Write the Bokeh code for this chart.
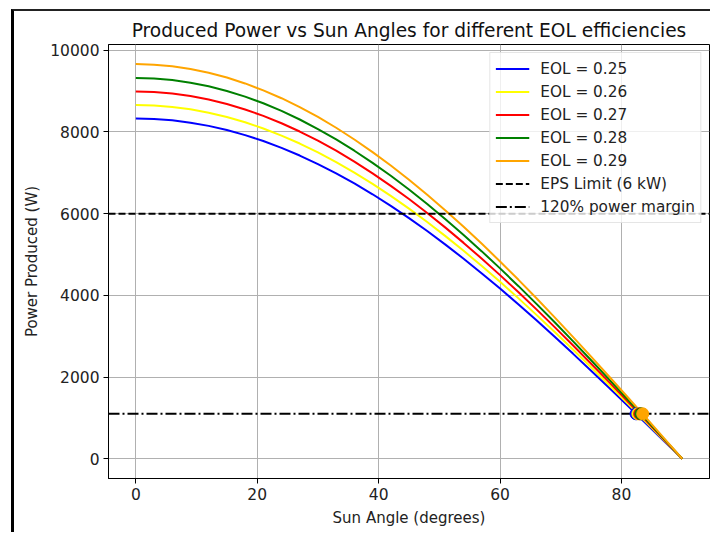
from bokeh.plotting import figure
from bokeh.models import Range1d, FixedTicker, Legend, LegendItem
from bokeh.layouts import column
from bokeh.embed import file_html
from bokeh.resources import INLINE

# ---- data ----
angles = [0, 3, 6, 9, 12, 15, 18, 21, 24, 27, 30, 33, 36, 39, 42, 45,
          48, 51, 54, 57, 60, 63, 66, 69, 72, 75, 78, 81, 84, 87, 90]
power_eol_025 = [8330, 8319, 8284, 8227, 8148, 8046, 7922, 7777, 7610, 7422, 7214, 6986, 6739, 6474, 6190, 5890,
                 5574, 5242, 4896, 4537, 4165, 3782, 3388, 2985, 2574, 2156, 1732, 1303, 871, 436, 0]
power_eol_026 = [8660, 8648, 8613, 8553, 8471, 8365, 8236, 8085, 7911, 7716, 7500, 7263, 7006, 6730, 6436, 6124,
                 5795, 5450, 5090, 4717, 4330, 3932, 3522, 3103, 2676, 2241, 1800, 1355, 905, 453, 0]
power_eol_027 = [8990, 8978, 8941, 8879, 8794, 8684, 8550, 8393, 8213, 8010, 7786, 7540, 7273, 6987, 6681, 6357,
                 6015, 5658, 5284, 4896, 4495, 4081, 3657, 3222, 2778, 2327, 1869, 1406, 940, 471, 0]
power_eol_028 = [9320, 9307, 9269, 9205, 9116, 9002, 8864, 8701, 8514, 8304, 8071, 7816, 7540, 7243, 6926, 6590,
                 6236, 5865, 5478, 5076, 4660, 4231, 3791, 3340, 2880, 2412, 1938, 1458, 974, 488, 0]
power_eol_029 = [9660, 9647, 9607, 9541, 9449, 9331, 9187, 9018, 8825, 8607, 8366, 8102, 7815, 7507, 7179, 6831,
                 6464, 6079, 5678, 5261, 4830, 4386, 3929, 3462, 2985, 2500, 2008, 1511, 1010, 506, 0]
series = [power_eol_025, power_eol_026, power_eol_027, power_eol_028, power_eol_029]
series_labels = ["EOL = 0.25", "EOL = 0.26", "EOL = 0.27", "EOL = 0.28", "EOL = 0.29"]
series_colors = ["blue", "yellow", "red", "green", "orange"]

eps_limit = 6000
margin_power = 1100
marker_angles = [82.4, 82.7, 83.0, 83.2, 83.5]
marker_power = [1100, 1100, 1100, 1100, 1100]

x_ticks = [0, 20, 40, 60, 80]
y_ticks = [0, 2000, 4000, 6000, 8000, 10000]
x_lo, x_hi = -4.5, 94.5
y_lo, y_hi = -483, 10140

FONT = "DejaVu Sans"

p = figure(width=696, height=521, output_backend="svg", toolbar_location=None,
           x_range=Range1d(x_lo, x_hi), y_range=Range1d(y_lo, y_hi),
           min_border_left=94, min_border_right=1, min_border_top=33, min_border_bottom=54)

p.title.text = "Produced Power vs Sun Angles for different EOL efficiencies"
p.title.align = "center"
p.title.text_font = FONT
p.title.text_font_size = "18.6px"
p.title.text_font_style = "normal"
p.title.text_color = "#111111"
p.title.standoff = 8

p.outline_line_color = "black"
p.outline_line_width = 1
p.background_fill_color = "white"
p.border_fill_color = "white"

for ax in (p.xaxis[0], p.yaxis[0]):
    ax.major_label_text_font = FONT
    ax.major_label_text_font_size = "15.5px"
    ax.major_label_text_color = "#222222"
    ax.axis_label_text_font = FONT
    ax.axis_label_text_font_size = "15px"
    ax.axis_label_text_font_style = "normal"
    ax.axis_label_text_color = "#222222"
    ax.major_tick_out = 5
    ax.major_tick_in = 0
    ax.minor_tick_out = 0
    ax.minor_tick_in = 0
    ax.axis_line_color = "black"
    ax.major_tick_line_color = "black"
    ax.major_label_standoff = 4

p.xaxis.axis_label = "Sun Angle (degrees)"
p.yaxis.axis_label = "Power Produced (W)"
p.xaxis.axis_label_standoff = 6
p.yaxis.axis_label_standoff = 6
p.xaxis.ticker = FixedTicker(ticks=x_ticks)
p.yaxis.ticker = FixedTicker(ticks=y_ticks)

p.xgrid.ticker = FixedTicker(ticks=x_ticks)
p.ygrid.ticker = FixedTicker(ticks=y_ticks)
for g in (p.xgrid[0], p.ygrid[0]):
    g.grid_line_color = "#b0b0b0"
    g.grid_line_width = 1

items = []
for vals, lab, col in zip(series, series_labels, series_colors):
    r = p.line(angles, vals, line_color=col, line_width=2)
    items.append(LegendItem(label=lab, renderers=[r]))

r_eps = p.line([x_lo, x_hi], [eps_limit, eps_limit], line_color="black", line_width=2, line_dash="7 3")
r_mar = p.line([x_lo, x_hi], [margin_power, margin_power], line_color="black", line_width=2,
               line_dash="11 3 2 3")
items.append(LegendItem(label="EPS Limit (6 kW)", renderers=[r_eps]))
items.append(LegendItem(label="120% power margin", renderers=[r_mar]))

for xa, ya, col in zip(marker_angles, marker_power, series_colors):
    p.scatter([xa], [ya], size=12, fill_color=col, line_color=col, marker="circle")

legend = Legend(items=items, location="top_right")
legend.margin = 8
legend.padding = 5
legend.spacing = 2
legend.glyph_width = 34
legend.glyph_height = 21
legend.label_height = 21
legend.label_standoff = 11
legend.label_text_font = FONT
legend.label_text_font_size = "15.3px"
legend.label_text_color = "#222222"
legend.border_line_color = "#cccccc"
legend.border_line_width = 1
legend.background_fill_color = "white"
legend.background_fill_alpha = 0.8
p.add_layout(legend, "center")

page = column(p, styles={"margin-left": "11px", "margin-top": "9px",
                         "border-left": "3px solid black", "border-top": "2px solid #222222"})

open("out.html", "w").write(file_html(page, INLINE))
